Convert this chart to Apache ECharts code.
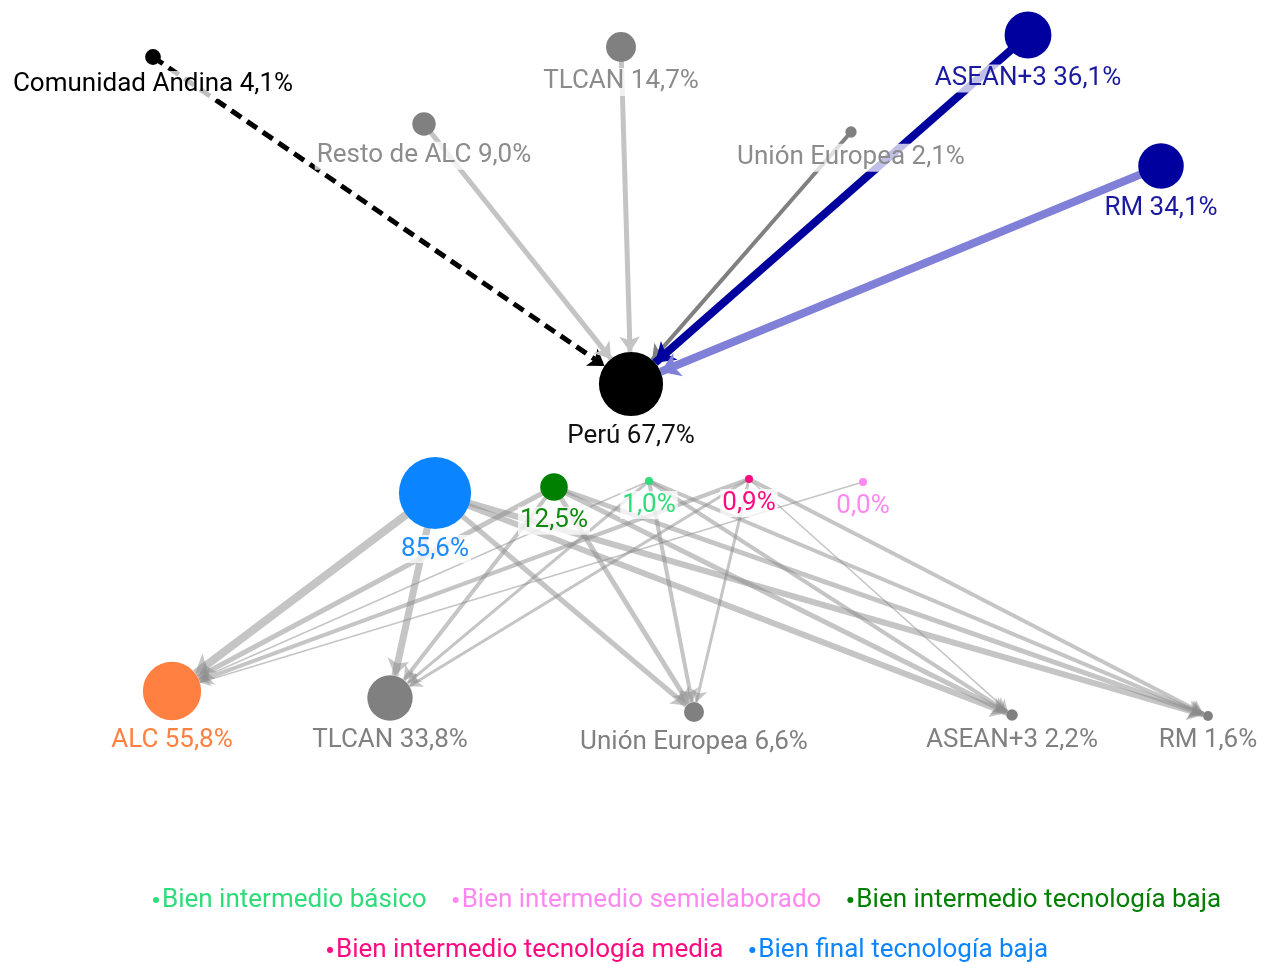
<!DOCTYPE html>
<html>
<head>
<meta charset="utf-8">
<script src="https://cdn.jsdelivr.net/npm/echarts@6/dist/echarts.min.js"></script>
<style>
  html, body { margin: 0; padding: 0; background: #fff; }
  #chart { width: 1264px; height: 964px; }
</style>
</head>
<body>
<div id="chart"></div>
<script>
// nodos: origen de importaciones (arriba), Perú, productos y destinos (abajo)
const nodeIds = ['ca', 'ralc', 'tlcan1', 'ue1', 'asean1', 'rm1', 'peru',
  'fin', 'tbaja', 'basico', 'tmedia', 'semi',
  'alc', 'tlcan2', 'ue2', 'asean2', 'rm2']
const nodeLabels = ['Comunidad Andina', 'Resto de ALC', 'TLCAN', 'Unión Europea', 'ASEAN+3', 'RM', 'Perú',
  '', '', '', '', '',
  'ALC', 'TLCAN', 'Unión Europea', 'ASEAN+3', 'RM']
const nodeShares = [4.1, 9.0, 14.7, 2.1, 36.1, 34.1, 67.7,
  85.6, 12.5, 1.0, 0.9, 0.0,
  55.8, 33.8, 6.6, 2.2, 1.6]
const nodeX = [153, 424, 621, 851, 1028, 1161, 631,
  435, 554, 649, 749, 863,
  172, 390, 694, 1012, 1208]
const nodeY = [57, 124, 47, 132, 35, 166, 384,
  493, 487, 481, 479, 482,
  691, 698, 712, 715, 716]

// categorías de producto (leyenda)
const productIds = ['basico', 'semi', 'tbaja', 'tmedia', 'fin']
const productNames = ['Bien intermedio básico', 'Bien intermedio semielaborado', 'Bien intermedio tecnología baja',
  'Bien intermedio tecnología media', 'Bien final tecnología baja']

// flujos hacia Perú
const inSources = ['ca', 'ralc', 'tlcan1', 'ue1', 'asean1', 'rm1']
const inWeights = [5, 5, 5, 4, 8, 8]

// flujos producto -> destino (peso estimado, 0 = sin flujo)
const outSources = ['fin', 'tbaja', 'basico', 'tmedia', 'semi']
const outTargets = ['alc', 'tlcan2', 'ue2', 'asean2', 'rm2']
const outWeights = [
  [8, 7, 5, 6, 6],
  [5, 4, 5, 5, 5],
  [1.5, 3, 4, 4, 4],
  [4, 3, 3, 1.5, 4],
  [1.5, 0, 0, 0, 0],
]

// estilos
const nodeColors = {
  ca: '#000000', ralc: '#808080', tlcan1: '#808080', ue1: '#808080', asean1: '#00009f', rm1: '#00009f', peru: '#000000',
  fin: '#0a84ff', tbaja: '#008000', basico: '#2fdc7a', tmedia: '#ff0a80', semi: '#ff88f0',
  alc: '#ff8040', tlcan2: '#808080', ue2: '#808080', asean2: '#808080', rm2: '#808080',
}
const labelColors = {
  ca: '#000000', ralc: '#8c8c8c', tlcan1: '#8c8c8c', ue1: '#8c8c8c', asean1: '#1a1aa0', rm1: '#1a1aa0', peru: '#111111',
  fin: '#1a8cff', tbaja: '#0f8a0f', basico: '#2fdc7a', tmedia: '#ff0a80', semi: '#ff88f0',
  alc: '#ff8040', tlcan2: '#808080', ue2: '#808080', asean2: '#808080', rm2: '#808080',
}
const inColors = ['#000000', '#c4c4c4', '#c4c4c4', '#808080', '#00009f', '#8080d8']
const FONT = 'Roboto'

const fmt = (v) => v.toFixed(1).replace('.', ',') + '%'

const nodes = nodeIds.map((id, i) => {
  const cat = productIds.indexOf(id)
  return {
    id,
    name: id,
    value: [nodeX[i], nodeY[i]],
    symbolSize: Math.max(8, 7.8 * Math.sqrt(nodeShares[i])),
    category: cat >= 0 ? cat : undefined,
    itemStyle: { color: nodeColors[id] },
    label: {
      formatter: (nodeLabels[i] ? nodeLabels[i] + ' ' : '') + fmt(nodeShares[i]),
      color: labelColors[id],
    },
  }
})

const links = []
inSources.forEach((s, i) => {
  const w = inWeights[i]
  links.push({
    source: s,
    target: 'peru',
    lineStyle: {
      width: w,
      color: inColors[i],
      opacity: 1,
      type: s === 'ca' ? [12, 7] : 'solid',
    },
    symbolSize: [0, 10 + w * 1.1],
  })
})
outSources.forEach((s, i) => {
  outTargets.forEach((t, j) => {
    const w = outWeights[i][j]
    if (!w) return
    links.push({
      source: s,
      target: t,
      lineStyle: { width: w, color: '#8c8c8c', opacity: 0.5 },
      symbolSize: [0, 9 + w * 1.1],
    })
  })
})

const legendBase = {
  icon: 'circle',
  itemWidth: 6,
  itemHeight: 6,
  itemGap: 26,
  textStyle: { fontSize: 26, fontFamily: FONT, padding: [0, 0, 0, -2] },
}
const legendItem = (i) => ({ name: productNames[i], textStyle: { color: nodeColors[productIds[i]] } })

const chart = echarts.init(document.getElementById('chart'))

const option = {
  animation: false,
  grid: { left: 0, right: 0, top: 0, bottom: 0 },
  xAxis: { type: 'value', min: 0, max: 1264, show: false },
  yAxis: { type: 'value', min: 0, max: 964, inverse: true, show: false },
  legend: [
    { ...legendBase, left: 148, top: 882, data: [0, 1, 2].map(legendItem) },
    { ...legendBase, left: 322, top: 932, data: [3, 4].map(legendItem) },
  ],
  series: [
    {
      type: 'graph',
      coordinateSystem: 'cartesian2d',
      edgeSymbol: ['none', 'arrow'],
      categories: productNames.map((n, i) => ({ name: n, itemStyle: { color: nodeColors[productIds[i]] } })),
      label: {
        show: true,
        position: 'bottom',
        distance: 6,
        fontSize: 26,
        fontFamily: FONT,
        lineHeight: 28,
        backgroundColor: 'rgba(255,255,255,0.75)',
        padding: [0, 2],
      },
      emphasis: { disabled: true },
      data: nodes,
      links: links,
    },
  ],
}

chart.setOption(option)
</script>
</body>
</html>
